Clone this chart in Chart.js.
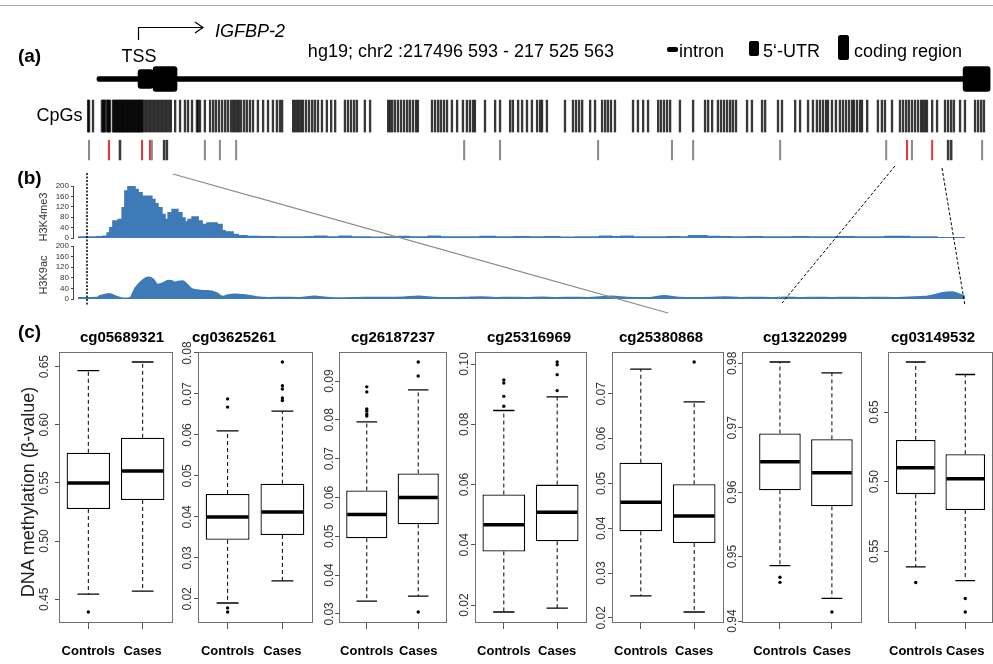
<!DOCTYPE html>
<html>
<head>
<meta charset="utf-8">
<title>IGFBP-2 methylation</title>
<script src="https://cdn.jsdelivr.net/npm/chart.js@4.4.1/dist/chart.umd.min.js"></script>
<style>
  html, body { margin: 0; padding: 0; background: #fff; }
  body { position: relative; width: 993px; height: 664px; overflow: hidden;
         font-family: "Liberation Sans", Arial, sans-serif; color: #000; }
  canvas { position: absolute; }
  .txt { position: absolute; white-space: nowrap; line-height: 1; z-index: 6; }
  svg { position: absolute; left: 0; top: 0; pointer-events: none; z-index: 5; }
</style>
</head>
<body>
<svg width="993" height="664">
  <line x1="0" y1="5.5" x2="993" y2="5.5" stroke="#a8a8a8" stroke-width="1"/>
  <!-- TSS arrow -->
  <polyline points="138.5,40 138.5,27.5 203,27.5" fill="none" stroke="#000" stroke-width="1.2"/>
  <polyline points="195,22 203,27.5 195,33" fill="none" stroke="#000" stroke-width="1.2"/>
  <!-- legend glyphs -->
  <rect x="667" y="47" width="11" height="5" rx="2" fill="#000"/>
  <rect x="749" y="41" width="10" height="15" rx="2" fill="#000"/>
  <rect x="838" y="35" width="11" height="25" rx="2.5" fill="#000"/>
  <!-- zoom guides -->
  <line x1="87" y1="173" x2="87" y2="306" stroke="#000" stroke-width="1.5" stroke-dasharray="2,1.5"/>
  <line x1="173" y1="174" x2="668" y2="313" stroke="#8a8a8a" stroke-width="1.2"/>
  <line x1="895" y1="166" x2="782" y2="303" stroke="#000" stroke-width="1" stroke-dasharray="3,2"/>
  <line x1="942" y1="168" x2="965" y2="306" stroke="#000" stroke-width="1" stroke-dasharray="3,2"/>
</svg>
<script>
// ---------- panel (a): gene model, CpGs and array probes (kb from chr2:217 496 593) ----------
const intron = [0, 28.3];
const utr5 = [1.34, 1.83];
const cds = [[1.83, 2.61], [28.26, 29.14]];

const cpgPos = [-0.29, -0.26, -0.13, 0.16, 0.20, 0.23, 0.26, 0.33, 0.36, 0.39, 0.42,
  0.52, 0.55, 0.59, 0.62, 0.65, 0.69, 0.72, 0.75, 0.78, 0.82, 0.85, 0.88, 0.91, 0.95, 0.98,
  1.01, 1.04, 1.08, 1.11, 1.14, 1.17, 1.21, 1.24, 1.27, 1.31, 1.34, 1.37, 1.40, 1.44, 1.47, 1.50,
  1.57, 1.63, 1.70, 1.76, 1.83, 1.89, 1.96, 2.02, 2.09, 2.15, 2.22, 2.28, 2.35, 2.41,
  2.55, 2.71, 2.87, 2.97, 3.10, 3.26, 3.30, 3.36, 3.52, 3.69, 3.79, 3.88, 3.98, 4.08, 4.18, 4.27, 4.37,
  4.44, 4.50, 4.57, 4.63, 4.70, 4.80, 4.89, 4.99, 5.09, 5.25, 5.42, 5.58, 5.74, 5.87, 5.97, 6.04,
  6.40, 6.46, 6.53, 6.59, 6.66, 6.72, 6.82, 6.92, 7.02, 7.11, 7.21, 7.34, 7.50, 7.64, 7.77,
  8.09, 8.19, 8.29, 8.39, 8.48, 8.74, 8.91, 9.50, 9.56, 9.63, 9.72, 9.82, 9.92, 10.02, 10.12,
  10.21, 10.31, 10.41, 10.47, 10.93, 11.03, 11.13, 11.22, 11.32, 11.42, 11.58, 11.75, 11.94, 12.07,
  12.17, 12.27, 12.33, 12.66, 12.99, 13.15, 13.48, 13.57, 13.74, 13.87, 14.03, 14.19, 14.36, 14.46,
  14.52, 14.68, 15.27, 15.53, 15.63, 15.73, 15.83, 16.09, 16.25, 16.48, 16.58, 16.67, 16.77, 16.90,
  17.49, 17.65, 17.82, 17.98, 18.31, 18.40, 18.50, 18.60, 18.70, 19.02, 19.45, 19.84, 19.94, 20.07,
  20.26, 20.36, 20.46, 20.56, 20.66, 20.75, 20.85, 21.21, 21.37, 21.70, 21.80, 22.22, 22.35, 22.78,
  22.94, 23.20, 23.36, 23.49, 23.59, 23.69, 23.79, 23.85, 23.98, 24.11, 24.24, 24.34, 24.44, 24.54,
  24.64, 24.70, 24.80, 24.90, 24.96, 25.13, 25.48, 25.61, 25.71, 25.94, 26.20, 26.30, 26.40, 26.49,
  26.59, 26.69, 26.79, 26.89, 26.95, 27.02, 27.08, 27.25, 27.41, 27.67, 27.77, 27.87, 27.96,
  28.16, 28.32, 28.65, 28.75, 28.85, 28.94];
const probeGrey = [-0.26, 1.79, 3.52, 4.01, 4.54, 11.98, 13.15, 16.35, 18.76, 19.45, 22.29, 25.75, 26.59, 28.88];
const probeDark = [0.75, 2.19, 2.28, 27.77, 27.87];
const probeRed = [0.39, 1.47, 1.73, 26.43, 27.25];

// ---------- panel (b): ChIP-seq signal (kb, signal) ----------
const h3k4me3 = [[-0.62, 4], [0.00, 5], [0.20, 7], [0.33, 19], [0.42, 39], [0.52, 65], [0.69, 71],
  [0.82, 116], [0.91, 181], [1.01, 213], [1.24, 187], [1.34, 174], [1.47, 161], [1.79, 148], [1.89, 132],
  [1.99, 116], [2.12, 90], [2.22, 71], [2.32, 97], [2.45, 110], [2.64, 97], [2.77, 77], [2.87, 62],
  [2.97, 71], [3.10, 81], [3.30, 65], [3.43, 52], [3.59, 58], [3.92, 52], [4.08, 28], [4.18, 23],
  [4.44, 13], [4.60, 9], [4.89, 6], [5.32, 5], [5.8, 4], [6.3, 4], [6.8, 5], [7.1, 7], [7.5, 4],
  [7.9, 7], [8.3, 4], [8.9, 3], [9.4, 4], [9.8, 6], [10.2, 4], [10.8, 7], [11.2, 4], [11.9, 4],
  [12.5, 6], [13.0, 4], [13.6, 5], [14.1, 4], [14.6, 5], [15.1, 3], [15.6, 4], [16.1, 4], [16.4, 7],
  [16.8, 5], [17.1, 7], [17.5, 4], [18.1, 4], [18.6, 5], [19.0, 4], [19.3, 9], [19.9, 6], [20.3, 5],
  [20.7, 4], [21.2, 5], [21.7, 4], [22.2, 4], [22.7, 5], [23.2, 4], [23.7, 4], [24.2, 5], [24.7, 4],
  [25.2, 4], [25.7, 6], [26.1, 6], [26.5, 4], [27.0, 4], [27.4, 1], [28.32, 1]];
const h3k9ac = [[-0.62, 5], [0.0, 6], [0.10, 12], [0.26, 17], [0.40, 20], [0.52, 15], [0.69, 8],
  [0.85, 3], [1.08, 5], [1.16, 21], [1.24, 40], [1.40, 62], [1.57, 78], [1.70, 82], [1.83, 75],
  [1.99, 55], [2.15, 60], [2.32, 70], [2.45, 68], [2.55, 62], [2.64, 66], [2.80, 68], [2.94, 55],
  [3.10, 38], [3.26, 34], [3.46, 31], [3.70, 30], [3.92, 22], [4.11, 9], [4.27, 15], [4.50, 18],
  [4.89, 14], [5.22, 8], [5.6, 5], [6.1, 6], [6.6, 5], [7.1, 10], [7.5, 6], [8.0, 4], [8.5, 5],
  [9.0, 6], [9.5, 6], [10.0, 7], [10.5, 10], [11.0, 6], [11.5, 5], [12.0, 6], [12.5, 8], [13.0, 5],
  [13.5, 6], [14.0, 5], [14.5, 7], [15.0, 5], [15.5, 6], [16.0, 5], [16.8, 10], [17.3, 6], [18.0, 5],
  [18.5, 12], [19.0, 6], [19.5, 5], [20.0, 6], [20.5, 8], [21.0, 5], [21.5, 6], [22.0, 5], [22.5, 7],
  [23.0, 5], [23.5, 6], [24.0, 5], [24.5, 6], [25.0, 5], [25.5, 6], [26.0, 5], [26.5, 7], [27.0, 9],
  [27.4, 18], [27.6, 24], [27.9, 26], [28.1, 20], [28.32, 10]];
const histTicks = [0, 40, 80, 120, 160, 200];

// ---------- panel (c): beta values per CpG probe ----------
const probes = ['cg05689321', 'cg03625261', 'cg26187237', 'cg25316969', 'cg25380868', 'cg13220299', 'cg03149532'];
const groups = ['Controls', 'Cases'];
const ctrlLow  = [0.4543, 0.0190, 0.0333, 0.0177, 0.0249, 0.9486, 0.5387];
const ctrlQ1   = [0.5276, 0.0344, 0.0495, 0.0378, 0.0393, 0.9603, 0.5910];
const ctrlMed  = [0.5500, 0.0400, 0.0556, 0.0467, 0.0458, 0.9647, 0.6099];
const ctrlQ3   = [0.5759, 0.0456, 0.0618, 0.0567, 0.0546, 0.9691, 0.6300];
const ctrlHigh = [0.6466, 0.0610, 0.0795, 0.0846, 0.0755, 0.9802, 0.6860];
const caseLow  = [0.4569, 0.0244, 0.0346, 0.0190, 0.0213, 0.9435, 0.5289];
const caseQ1   = [0.5353, 0.0356, 0.0531, 0.0412, 0.0367, 0.9578, 0.5796];
const caseMed  = [0.5603, 0.0412, 0.0600, 0.0508, 0.0427, 0.9630, 0.6020];
const caseQ3   = [0.5888, 0.0481, 0.0662, 0.0600, 0.0498, 0.9682, 0.6197];
const caseHigh = [0.6540, 0.0658, 0.0877, 0.0891, 0.0682, 0.9785, 0.6770];
const ctrlOut = [[0.439], [0.0688, 0.0668, 0.0178, 0.0168], [0.0885, 0.0872, 0.0828, 0.0823, 0.0815, 0.0810],
  [0.0947, 0.0937, 0.0893, 0.0860], [], [0.9468, 0.9460], [0.5275]];
const caseOut = [[], [0.0778, 0.0720, 0.0712, 0.0690, 0.0684], [0.0949, 0.0913, 0.0305],
  [0.1007, 0.0998, 0.0965, 0.0912], [0.0771], [0.9414], [0.5160, 0.5063]];
const yTicks = [
  [0.45, 0.50, 0.55, 0.60, 0.65],
  [0.02, 0.03, 0.04, 0.05, 0.06, 0.07, 0.08],
  [0.03, 0.04, 0.05, 0.06, 0.07, 0.08, 0.09],
  [0.02, 0.04, 0.06, 0.08, 0.10],
  [0.02, 0.03, 0.04, 0.05, 0.06, 0.07],
  [0.94, 0.95, 0.96, 0.97, 0.98],
  [0.55, 0.60, 0.65]];
const yTickLabels = [
  ['0.45', '0.50', '0.55', '0.60', '0.65'],
  ['0.02', '0.03', '0.04', '0.05', '0.06', '0.07', '0.08'],
  ['0.03', '0.04', '0.05', '0.06', '0.07', '0.08', '0.09'],
  ['0.02', '0.04', '0.06', '0.08', '0.10'],
  ['0.02', '0.03', '0.04', '0.05', '0.06', '0.07'],
  ['0.94', '0.95', '0.96', '0.97', '0.98'],
  ['0.55', '0.50', '0.65']];

// ---------- layout ----------
const kbMin = -3.165, kbMax = 29.235;      // page-wide track scale
const histMin = -0.783;
const blue = '#3e7ab7';
const frameL = [59, 198, 339, 475, 612, 742, 888];
const frameR = [172, 312, 446, 586, 723, 861, 992];
const xRange = [[0.46, 2.54], [0.46, 2.54], [0.46, 2.54], [0.46, 2.54], [0.46, 2.54], [0.27, 2.56], [0.44, 2.54]];
const titleX = [122, 234, 393, 529, 661, 805, 933];
const tickLabelOff = [14, 10, 9, 10, 10, 9, 13];
const plotTop = 352, plotBottom = 622;

Chart.defaults.font.family = '"Liberation Sans", Arial, sans-serif';
Chart.defaults.color = '#000';

const baseOpts = {
  responsive: false, devicePixelRatio: 1, animation: false, events: [],
  plugins: { legend: { display: false }, tooltip: { enabled: false } }
};

function addCanvas(left, top, w, h) {
  const c = document.createElement('canvas');
  c.width = w; c.height = h;
  c.style.left = left + 'px'; c.style.top = top + 'px';
  c.style.width = w + 'px'; c.style.height = h + 'px';
  document.body.appendChild(c);
  return c;
}

function addText(str, x, y, size, o = {}) {
  const d = document.createElement('div');
  d.className = 'txt';
  d.textContent = str;
  d.style.left = x + 'px';
  d.style.top = y + 'px';
  d.style.fontSize = size + 'px';
  if (o.bold) d.style.fontWeight = 'bold';
  if (o.italic) d.style.fontStyle = 'italic';
  if (o.color) d.style.color = o.color;
  const tx = o.left ? '0' : '-50%';
  d.style.transform = 'translate(' + tx + ',-50%)' + (o.rotate ? ' rotate(-90deg)' : '');
  document.body.appendChild(d);
}

// gene model
new Chart(addCanvas(0, 61, 993, 36), {
  type: 'bar',
  data: {
    labels: ['gene'],
    datasets: [
      { data: [{ y: 'gene', x: intron }], barThickness: 5, borderRadius: 2 },
      { data: [{ y: 'gene', x: utr5 }], barThickness: 19, borderRadius: 3 },
      { data: cds.map(r => ({ y: 'gene', x: r })), barThickness: 25, borderRadius: 3 }
    ].map(d => Object.assign(d, { backgroundColor: '#000', borderSkipped: false, grouped: false }))
  },
  options: {
    ...baseOpts, indexAxis: 'y', layout: { padding: 0 },
    scales: {
      x: { type: 'linear', display: false, min: kbMin, max: kbMax },
      y: { display: false }
    }
  }
});

// CpG sites and array probes
const cpgRow = [0.47, 0.94], probeRow = [0.06, 0.35];
const ticksOf = (arr, row) => arr.map(p => ({ x: p, y: row }));
new Chart(addCanvas(0, 96, 993, 68), {
  type: 'bar',
  data: {
    datasets: [
      { data: ticksOf(cpgPos, cpgRow), backgroundColor: 'rgba(0,0,0,0.78)', barThickness: 1.7 },
      { data: ticksOf(probeGrey, probeRow), backgroundColor: '#8c8c8c', barThickness: 1.4 },
      { data: ticksOf(probeDark, probeRow), backgroundColor: '#3a3a3a', barThickness: 1.9 },
      { data: ticksOf(probeRed, probeRow), backgroundColor: '#e8383e', barThickness: 1.4 }
    ].map(d => Object.assign(d, { grouped: false, borderSkipped: false }))
  },
  options: {
    ...baseOpts, layout: { padding: 0 },
    scales: {
      x: { type: 'linear', display: false, min: kbMin, max: kbMax, offset: false },
      y: { type: 'linear', display: false, min: 0, max: 1 }
    }
  }
});

// histone tracks
function histoneChart(top, height, points, stepped) {
  new Chart(addCanvas(30, top, 963, height), {
    type: 'line',
    data: {
      datasets: [{
        data: points.map(([x, y]) => ({ x, y })),
        stepped: stepped, cubicInterpolationMode: 'monotone', tension: stepped ? 0 : 0.4,
        fill: 'origin', backgroundColor: blue, borderColor: blue, borderWidth: 1.5, pointRadius: 0
      }]
    },
    options: {
      ...baseOpts,
      layout: { padding: { top: 8, bottom: 8, left: 0, right: 0 } },
      scales: {
        x: { type: 'linear', display: false, min: histMin, max: kbMax },
        y: {
          min: 0, max: 200,
          afterBuildTicks: s => { s.ticks = histTicks.map(v => ({ value: v })); },
          afterFit: s => { s.width = 43; },
          ticks: { font: { size: 8 }, color: '#333', padding: 2, autoSkip: false },
          grid: { drawOnChartArea: false, tickLength: 2, color: '#444' },
          border: { color: '#444' }
        }
      }
    }
  });
}
histoneChart(178, 68, h3k4me3, true);
histoneChart(238, 69, h3k9ac, false);

// boxplots
function boxPlugin(stats) {
  return {
    id: 'boxWhiskers',
    afterDatasetsDraw(chart) {
      const { ctx, chartArea: a, scales: { y } } = chart;
      const bars = chart.getDatasetMeta(0).data;
      const py = v => y.getPixelForValue(v);
      ctx.save();
      ctx.strokeStyle = '#000';
      stats.forEach((s, k) => {
        const cx = bars[k].x, hw = bars[k].width / 2;
        ctx.lineWidth = 1;
        ctx.setLineDash([4, 3]);
        ctx.beginPath();
        ctx.moveTo(cx, py(s.q3)); ctx.lineTo(cx, py(s.hi));
        ctx.moveTo(cx, py(s.q1)); ctx.lineTo(cx, py(s.lo));
        ctx.stroke();
        ctx.setLineDash([]);
        ctx.lineWidth = 1.3;
        ctx.beginPath();
        ctx.moveTo(cx - hw / 2, py(s.hi)); ctx.lineTo(cx + hw / 2, py(s.hi));
        ctx.moveTo(cx - hw / 2, py(s.lo)); ctx.lineTo(cx + hw / 2, py(s.lo));
        ctx.stroke();
        ctx.lineWidth = 3.5;
        ctx.beginPath();
        ctx.moveTo(cx - hw + 1, py(s.med)); ctx.lineTo(cx + hw - 1, py(s.med));
        ctx.stroke();
      });
      ctx.lineWidth = 1;
      ctx.strokeStyle = '#707070';
      ctx.strokeRect(Math.round(a.left) + 0.5, Math.round(a.top) + 0.5, Math.round(a.width), Math.round(a.height));
      ctx.restore();
    }
  };
}

const mctx = document.createElement('canvas').getContext('2d');
mctx.font = '12px "Liberation Sans", Arial, sans-serif';

probes.forEach((name, i) => {
  const L = frameL[i], R = frameR[i];
  const padL = 40, padR = 15, padT = 14, axisH = 42;
  const canvas = addCanvas(L - padL, plotTop - padT, padL + (R - L) + padR, padT + (plotBottom - plotTop) + axisH);
  const stats = [
    { lo: ctrlLow[i], q1: ctrlQ1[i], med: ctrlMed[i], q3: ctrlQ3[i], hi: ctrlHigh[i] },
    { lo: caseLow[i], q1: caseQ1[i], med: caseMed[i], q3: caseQ3[i], hi: caseHigh[i] }
  ];
  const all = [ctrlLow[i], ctrlHigh[i], caseLow[i], caseHigh[i], ...ctrlOut[i], ...caseOut[i]];
  const lo = Math.min(...all), hi = Math.max(...all), ext = (hi - lo) * 0.04;
  const halfW = Math.max(...yTickLabels[i].map(t => mctx.measureText(t).width)) / 2;
  const tickLen = 4;

  new Chart(canvas, {
    type: 'bar',
    data: {
      datasets: [
        {
          data: [{ x: 1, y: [ctrlQ1[i], ctrlQ3[i]] }, { x: 2, y: [caseQ1[i], caseQ3[i]] }],
          backgroundColor: '#fff', borderColor: '#000', borderWidth: 1.3, borderSkipped: false,
          barPercentage: 0.8, categoryPercentage: 1
        },
        {
          type: 'scatter',
          data: [...ctrlOut[i].map(v => ({ x: 1, y: v })), ...caseOut[i].map(v => ({ x: 2, y: v }))],
          pointRadius: 1.7, backgroundColor: '#000', borderWidth: 0
        }
      ]
    },
    options: {
      ...baseOpts,
      layout: { padding: { top: padT, right: padR, left: 0, bottom: 0 } },
      scales: {
        x: {
          type: 'linear', min: xRange[i][0], max: xRange[i][1], offset: false,
          afterBuildTicks: s => { s.ticks = [{ value: 1 }, { value: 2 }]; },
          afterFit: s => { s.height = axisH; },
          ticks: { callback: (v, k) => groups[k], font: { size: 13, weight: 'bold' }, color: '#000',
                   padding: 15, autoSkip: false, maxRotation: 0 },
          grid: { drawOnChartArea: false, offset: false, tickLength: 7, color: '#555' },
          border: { display: false }
        },
        y: {
          min: lo - ext, max: hi + ext,
          afterBuildTicks: s => { s.ticks = yTicks[i].map(v => ({ value: v })); },
          afterFit: s => { s.width = padL; },
          ticks: { callback: (v, k) => yTickLabels[i][k], font: { size: 12 }, color: '#333',
                   minRotation: 90, maxRotation: 90, crossAlign: 'center', autoSkip: false,
                   padding: tickLabelOff[i] - tickLen - halfW },
          grid: { drawOnChartArea: false, tickLength: tickLen, color: '#555' },
          border: { display: false }
        }
      }
    },
    plugins: [boxPlugin(stats)]
  });

  addText(name, titleX[i], 335.5, 15, { bold: true });
});

// text
addText('(a)', 29.5, 55, 19, { bold: true });
addText('(b)', 29.5, 177, 19, { bold: true });
addText('(c)', 29.5, 331, 19, { bold: true });
addText('TSS', 139, 55.5, 18);
addText('IGFBP-2', 250, 31, 18, { italic: true });
addText('hg19; chr2 :217496 593 - 217 525 563', 461, 50.5, 18);
addText('intron', 679, 50.5, 18, { left: true });
addText('5\u2018-UTR', 763, 50.5, 18, { left: true });
addText('coding region', 854, 50.5, 18, { left: true });
addText('CpGs', 59.5, 115, 18);
addText('H3K4me3', 43, 217, 11, { rotate: true, color: '#333' });
addText('H3K9ac', 43, 275, 11, { rotate: true, color: '#333' });
addText('DNA methylation (\u03b2-value)', 28, 492, 18, { rotate: true, color: '#222' });
</script>
</body>
</html>
